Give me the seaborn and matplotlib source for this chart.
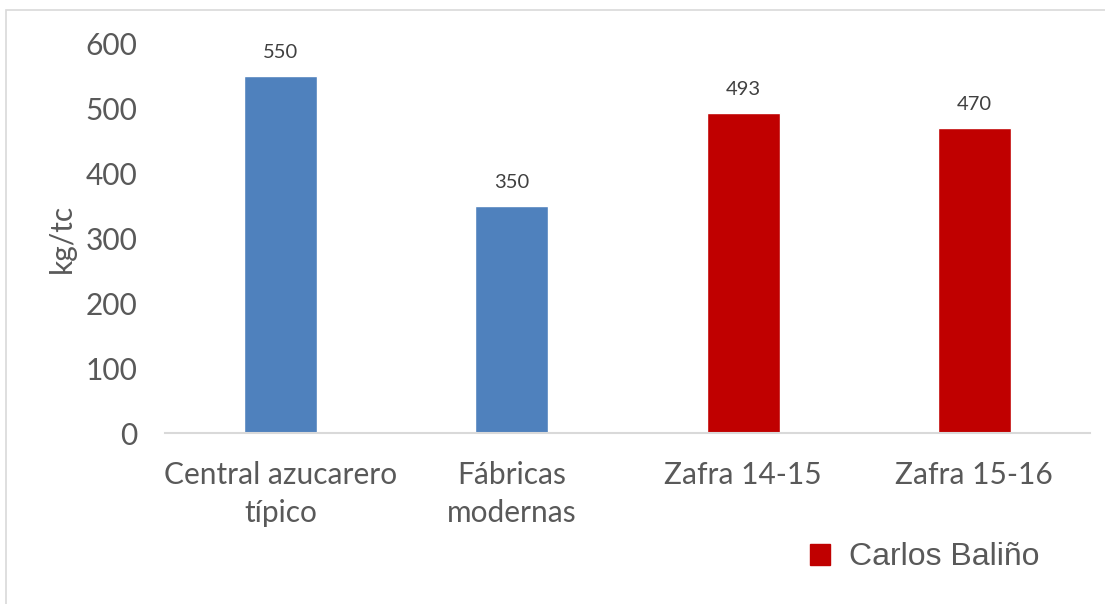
import matplotlib
matplotlib.use("Agg")
import matplotlib.pyplot as plt
import matplotlib.patches as mpatches
import seaborn as sns
import pandas as pd

# Chart data
categories = ["Central azucarero\ntípico", "Fábricas\nmodernas", "Zafra 14-15", "Zafra 15-16"]
values = [550, 350, 493, 470]
groups = ["ref", "ref", "cb", "cb"]
legend_label = "Carlos Baliño"

colors = {"ref": "#4F81BD", "cb": "#C00000"}
text_color = "#595959"

df = pd.DataFrame({"cat": categories, "val": values, "grp": groups})

sns.set_style("white")
plt.rcParams["font.family"] = ["Lato", "DejaVu Sans"]

fig = plt.figure(figsize=(11.05, 6.04), dpi=100)
ax = fig.add_axes([0.1493, 0.2831, 0.9864 - 0.1493, 0.9272 - 0.2831])

sns.barplot(data=df, x="cat", y="val", hue="grp", palette=colors, saturation=1,
            dodge=False, width=0.316, legend=False, ax=ax)

ax.set_ylim(0, 600)
ax.set_xlim(-0.5, 3.5)
ax.set_yticks(range(0, 601, 100))
ax.tick_params(axis="both", length=0, labelsize=21.5, colors=text_color)
ax.tick_params(axis="x", pad=20)
ax.tick_params(axis="y", pad=20)
for t in ax.get_xticklabels():
    t.set_linespacing(1.45)
ax.set_xlabel("")
ax.set_ylabel("kg/tc", fontsize=21.5, color=text_color, labelpad=7)

for s in ["top", "right", "left"]:
    ax.spines[s].set_visible(False)
ax.spines["bottom"].set_color("#D9D9D9")
ax.spines["bottom"].set_linewidth(1.5)

for c in ax.containers:
    ax.bar_label(c, fontsize=14.5, color="#404040", padding=11)

handle = mpatches.Patch(color=colors["cb"], label=legend_label)
leg = fig.legend(handles=[handle], loc="center left", bbox_to_anchor=(0.707, 0.077),
                 frameon=False, handlelength=0.62, handleheight=0.62,
                 handletextpad=0.6, prop={"family": "Liberation Sans", "size": 23})
for t in leg.get_texts():
    t.set_color(text_color)

# light border around the chart area
fig.patches.append(mpatches.Rectangle((6 / 1105, -0.01), 1.02, 1 - 10 / 604 + 0.01,
                                      transform=fig.transFigure, fill=False,
                                      edgecolor="#D9D9D9", linewidth=1.2))

fig.savefig("out.png", dpi=100)
